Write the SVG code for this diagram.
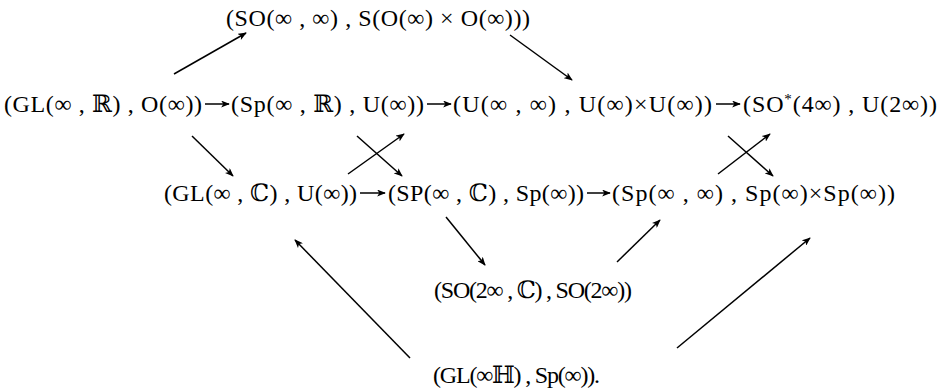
<svg xmlns="http://www.w3.org/2000/svg" width="944" height="392" viewBox="0 0 944 392">
<style>
text{font-family:"Liberation Serif","DejaVu Serif",serif;font-size:24px;fill:#000;}
.c line{stroke:#000;stroke-width:1.5;marker-end:url(#ah);}
</style>
<defs>
<marker id="ah" viewBox="0 0 10 8" refX="9" refY="4" markerWidth="9" markerHeight="7" markerUnits="userSpaceOnUse" orient="auto">
<path d="M0,0 L10,4 L0,8 L2.5,4 z" fill="#000"/>
</marker>
</defs>
<rect width="944" height="392" fill="#fff"/>
<g id="n-top"><text x="226" y="26" textLength="304" lengthAdjust="spacing">(SO(∞ , ∞) , S(O(∞) × O(∞)))</text></g>
<g id="n-glr"><text x="4" y="112" textLength="198" lengthAdjust="spacing">(GL(∞ , ℝ) , O(∞))</text></g>
<g id="n-spr"><text x="231" y="112" textLength="193" lengthAdjust="spacing">(Sp(∞ , ℝ) , U(∞))</text></g>
<g id="n-uinf"><text x="453" y="112" textLength="259" lengthAdjust="spacing">(U(∞ , ∞) , U(∞)×U(∞))</text></g>
<g id="n-sostar"><text x="743" y="112" textLength="194" lengthAdjust="spacing">(SO<tspan dy="-8" font-size="15">*</tspan><tspan dy="8">(4∞) , U(2∞))</tspan></text></g>
<g id="n-glc"><text x="164" y="201" textLength="193" lengthAdjust="spacing">(GL(∞ , ℂ) , U(∞))</text></g>
<g id="n-spc"><text x="388" y="201" textLength="196" lengthAdjust="spacing">(SP(∞ , ℂ) , Sp(∞))</text></g>
<g id="n-spinf"><text x="612" y="201" textLength="283" lengthAdjust="spacing">(Sp(∞ , ∞) , Sp(∞)×Sp(∞))</text></g>
<g id="n-so2c"><text x="434" y="298" font-size="22" textLength="198" lengthAdjust="spacing">(SO(2∞ , ℂ) , SO(2∞))</text></g>
<g id="n-glh"><text x="433" y="383" textLength="167" lengthAdjust="spacing">(GL(∞ℍ) , Sp(∞)).</text></g>
<g id="connectors" class="c">
<line x1="205" y1="104" x2="229" y2="104"/>
<line x1="427" y1="104" x2="451" y2="104"/>
<line x1="716" y1="104" x2="740" y2="104"/>
<line x1="360" y1="193" x2="385" y2="193"/>
<line x1="587" y1="193" x2="610" y2="193"/>
<line x1="174" y1="74" x2="246" y2="33"/>
<line x1="510" y1="35" x2="572" y2="80"/>
<line x1="192" y1="136" x2="233" y2="176"/>
<line x1="357" y1="136" x2="402" y2="176"/>
<line x1="348" y1="174" x2="404" y2="134"/>
<line x1="728" y1="136" x2="773" y2="176"/>
<line x1="718" y1="174" x2="770" y2="134"/>
<line x1="446" y1="217" x2="485" y2="265"/>
<line x1="617" y1="262" x2="660" y2="220"/>
<line x1="410" y1="358" x2="295" y2="240"/>
<line x1="677" y1="348" x2="810" y2="238"/>
</g>
</svg>
